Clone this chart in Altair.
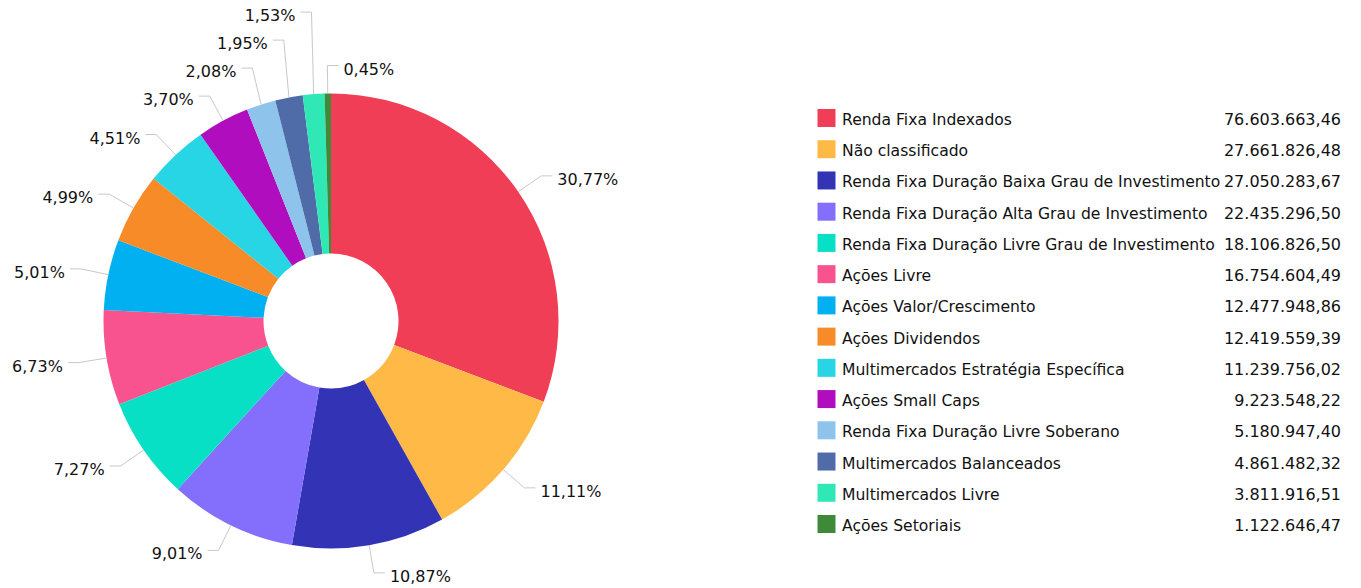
import math
import altair as alt
import pandas as pd

# ---- data ----
names = [
    "Renda Fixa Indexados",
    "Não classificado",
    "Renda Fixa Duração Baixa Grau de Investimento",
    "Renda Fixa Duração Alta Grau de Investimento",
    "Renda Fixa Duração Livre Grau de Investimento",
    "Ações Livre",
    "Ações Valor/Crescimento",
    "Ações Dividendos",
    "Multimercados Estratégia Específica",
    "Ações Small Caps",
    "Renda Fixa Duração Livre Soberano",
    "Multimercados Balanceados",
    "Multimercados Livre",
    "Ações Setoriais",
]
values = [
    76603663.46, 27661826.48, 27050283.67, 22435296.50, 18106826.50,
    16754604.49, 12477948.86, 12419559.39, 11239756.02, 9223548.22,
    5180947.40, 4861482.32, 3811916.51, 1122646.47,
]
colors = [
    "#EF3E55", "#FFB946", "#3333B5", "#836FFC", "#08E0C5",
    "#F8538E", "#00B0F0", "#F68B27", "#28D5E4", "#B00DBE",
    "#8EC3EB", "#4F6CA9", "#2FE8B5", "#3E8A38",
]

FONT = "DejaVu Sans"
FS = 16
FS_NAME = 15.6
TXT = "#111111"

# layout (pixels)
W1, W2, H = 800, 561, 588
CX, CY = 331, 321
R_OUT, R_IN = 227.5, 67.5
L1, L2, GAP, MIN_SEP = 28, 11, 5, 28


def br(v, dec=2):
    s = f"{v:,.{dec}f}"
    return s.replace(",", "#").replace(".", ",").replace("#", ".")


total = sum(values)
rows = []
cum = 0.0
for i, (n, v) in enumerate(zip(names, values)):
    a0 = cum / total * 2 * math.pi
    cum += v
    a1 = cum / total * 2 * math.pi
    mid = (a0 + a1) / 2
    dx, dy = math.sin(mid), -math.cos(mid)
    side = "right" if dx > -0.02 else "left"
    rows.append(dict(name=n, idx=i, dx=dx, dy=dy, side=side,
                     ex=R_OUT * dx, ey=R_OUT * dy,
                     bx=(R_OUT + L1) * dx, by=(R_OUT + L1) * dy,
                     pct=br(v / total * 100) + "%"))

# simple overlap resolution: push labels upward from the bottom on each side
for s in ("left", "right"):
    grp = sorted([r for r in rows if r["side"] == s], key=lambda r: -r["by"])
    for j in range(1, len(grp)):
        grp[j]["by"] = min(grp[j]["by"], grp[j - 1]["by"] - MIN_SEP)

line_rows, text_rows = [], []
for r in rows:
    sgn = 1 if r["side"] == "right" else -1
    hx = r["bx"] + sgn * L2
    line_rows += [
        dict(name=r["name"], k=0, x=r["ex"], y=r["ey"]),
        dict(name=r["name"], k=1, x=r["bx"], y=r["by"]),
        dict(name=r["name"], k=2, x=hx, y=r["by"]),
    ]
    text_rows.append(dict(name=r["name"], label=r["pct"], side=r["side"],
                          x=hx + sgn * GAP, y=r["by"]))

pie_df = pd.DataFrame({"name": names, "value": values, "idx": list(range(len(names)))})
line_df = pd.DataFrame(line_rows)
text_df = pd.DataFrame(text_rows)

xs = alt.Scale(domain=[-CX, W1 - CX], range=[0, W1])
ys = alt.Scale(domain=[-CY, H - CY], range=[0, H])
color_scale = alt.Scale(domain=names, range=colors)

arcs = alt.Chart(pie_df).mark_arc(innerRadius=R_IN, outerRadius=R_OUT).encode(
    theta=alt.Theta("value:Q", stack=True),
    order=alt.Order("idx:Q"),
    color=alt.Color("name:N", scale=color_scale, legend=None),
    x=alt.value(CX),
    y=alt.value(CY),
)

leaders = alt.Chart(line_df).mark_line(color="#c8c8c8", strokeWidth=1).encode(
    x=alt.X("x:Q", scale=xs, axis=None),
    y=alt.Y("y:Q", scale=ys, axis=None),
    detail="name:N",
    order="k:Q",
)

def label_layer(side, align):
    return alt.Chart(text_df[text_df.side == side]).mark_text(
        align=align, baseline="middle", dy=4, font=FONT, fontSize=FS, color=TXT
    ).encode(
        x=alt.X("x:Q", scale=xs, axis=None),
        y=alt.Y("y:Q", scale=ys, axis=None),
        text="label:N",
    )

pie = alt.layer(arcs, leaders, label_layer("right", "left"),
                label_layer("left", "right")).properties(width=W1, height=H)

# ---- legend panel ----
leg_df = pd.DataFrame({"name": names, "amount": [br(v) for v in values]})
ly = alt.Y("name:N", sort=names, axis=None,
           scale=alt.Scale(type="point", range=[118, 524], padding=0))

sq = alt.Chart(leg_df).mark_square(size=18 * 18, opacity=1).encode(
    x=alt.value(26.5), y=ly,
    color=alt.Color("name:N", scale=color_scale, legend=None),
)
nm = alt.Chart(leg_df).mark_text(
    align="left", baseline="middle", dy=2, font=FONT, fontSize=FS_NAME, color=TXT
).encode(x=alt.value(42), y=ly, text="name:N")
am = alt.Chart(leg_df).mark_text(
    align="right", baseline="middle", dy=2, font=FONT, fontSize=FS, color=TXT
).encode(x=alt.value(541), y=ly, text="amount:N")

legend = alt.layer(sq, nm, am).properties(width=W2, height=H)

chart = alt.hconcat(pie, legend, spacing=0).properties(
    padding=0, background="white"
).configure_view(stroke=None)

chart.save("out.html", embed_options={"renderer": "svg", "actions": False})
